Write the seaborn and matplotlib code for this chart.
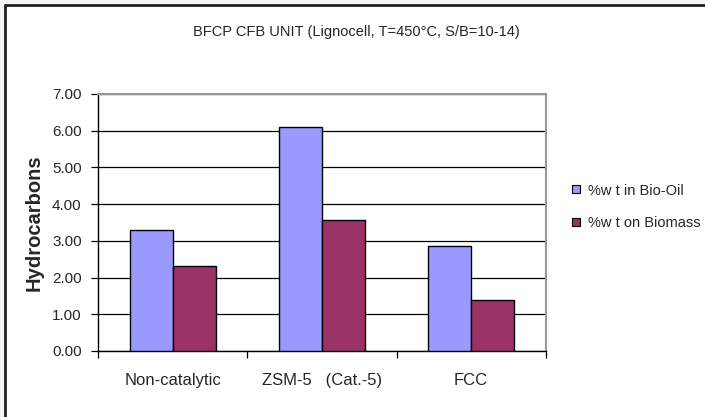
import matplotlib
matplotlib.use("Agg")
import matplotlib.pyplot as plt
from matplotlib.lines import Line2D
from matplotlib.patches import Patch
import seaborn as sns
import pandas as pd

categories = ["Non-catalytic", "ZSM-5   (Cat.-5)", "FCC"]
series_names = ["%w t in Bio-Oil", "%w t on Biomass"]
bio_oil = [3.29, 6.11, 2.87]
biomass = [2.32, 3.57, 1.38]
y_ticks = [0, 1, 2, 3, 4, 5, 6, 7]
colors = ["#9999FF", "#993366"]

df = pd.DataFrame({
    "category": categories * 2,
    "series": [series_names[0]] * 3 + [series_names[1]] * 3,
    "value": bio_oil + biomass,
})

sns.set_theme(style="white")
plt.rcParams["font.family"] = ["Liberation Sans", "DejaVu Sans"]

fig = plt.figure(figsize=(7.05, 4.17), dpi=100)
fig.patch.set_facecolor("#F2F5F0")

W, H = 705, 417
# white panel with a dark frame on its top and left edges
fig.patches.append(plt.Rectangle((5 / W, 0), 1, 1 - 5 / H, transform=fig.transFigure,
                                 facecolor="white", edgecolor="none", zorder=-10))
fig.lines.append(Line2D([5 / W, 5 / W], [0, 1 - 5 / H], transform=fig.transFigure,
                        color="#202020", lw=2))
fig.lines.append(Line2D([5 / W, 1], [1 - 5 / H, 1 - 5 / H], transform=fig.transFigure,
                        color="#202020", lw=2))

ax = fig.add_axes([98.3 / W, 1 - 351 / H, (545.7 - 98.3) / W, (351 - 94) / H])
ax.set_facecolor("white")

sns.barplot(data=df, x="category", y="value", hue="series", palette=colors,
            saturation=1, width=0.572, gap=0, edgecolor="black", linewidth=1.0,
            ax=ax, legend=False, zorder=3)

ax.set_ylim(0, 7)
ax.set_xlim(-0.5, 2.5)
ax.set_yticks(y_ticks)
ax.set_yticklabels([f"{v:.2f}" for v in y_ticks], fontsize=11)
ax.yaxis.grid(True, color="black", lw=0.9, zorder=0)
ax.set_axisbelow(True)

ax.set_xticks([0, 1, 2])
ax.set_xticklabels(categories, fontsize=12)
ax.tick_params(axis="x", length=0, pad=16)
ax.tick_params(axis="y", length=5, width=0.9, color="black", left=True, direction="out", pad=7)
# category boundary ticks
ax.set_xticks([-0.5, 0.5, 1.5, 2.5], minor=True)
ax.tick_params(axis="x", which="minor", length=5, width=0.9, color="black", bottom=True, direction="out")

for side in ["left", "bottom"]:
    ax.spines[side].set_color("black")
    ax.spines[side].set_linewidth(1.0)
for side in ["top", "right"]:
    ax.spines[side].set_color("#999999")
    ax.spines[side].set_linewidth(1.5)

ax.set_xlabel("")
ax.set_ylabel("Hydrocarbons", fontsize=14.5, fontweight="bold", labelpad=6)

fig.text(356 / W, 1 - 32 / H, "BFCP CFB UNIT (Lignocell, T=450°C, S/B=10-14)",
         ha="center", va="center", fontsize=10.5)

handles = [Patch(facecolor=c, edgecolor="black", lw=0.8) for c in colors]
fig.legend(handles, series_names, loc="center left", bbox_to_anchor=(565 / W, 1 - 207 / H),
           frameon=False, fontsize=10.5, handlelength=0.5, handleheight=0.5,
           handletextpad=0.6, labelspacing=1.3, borderpad=0)

fig.savefig("out.png", dpi=100, facecolor=fig.get_facecolor())
